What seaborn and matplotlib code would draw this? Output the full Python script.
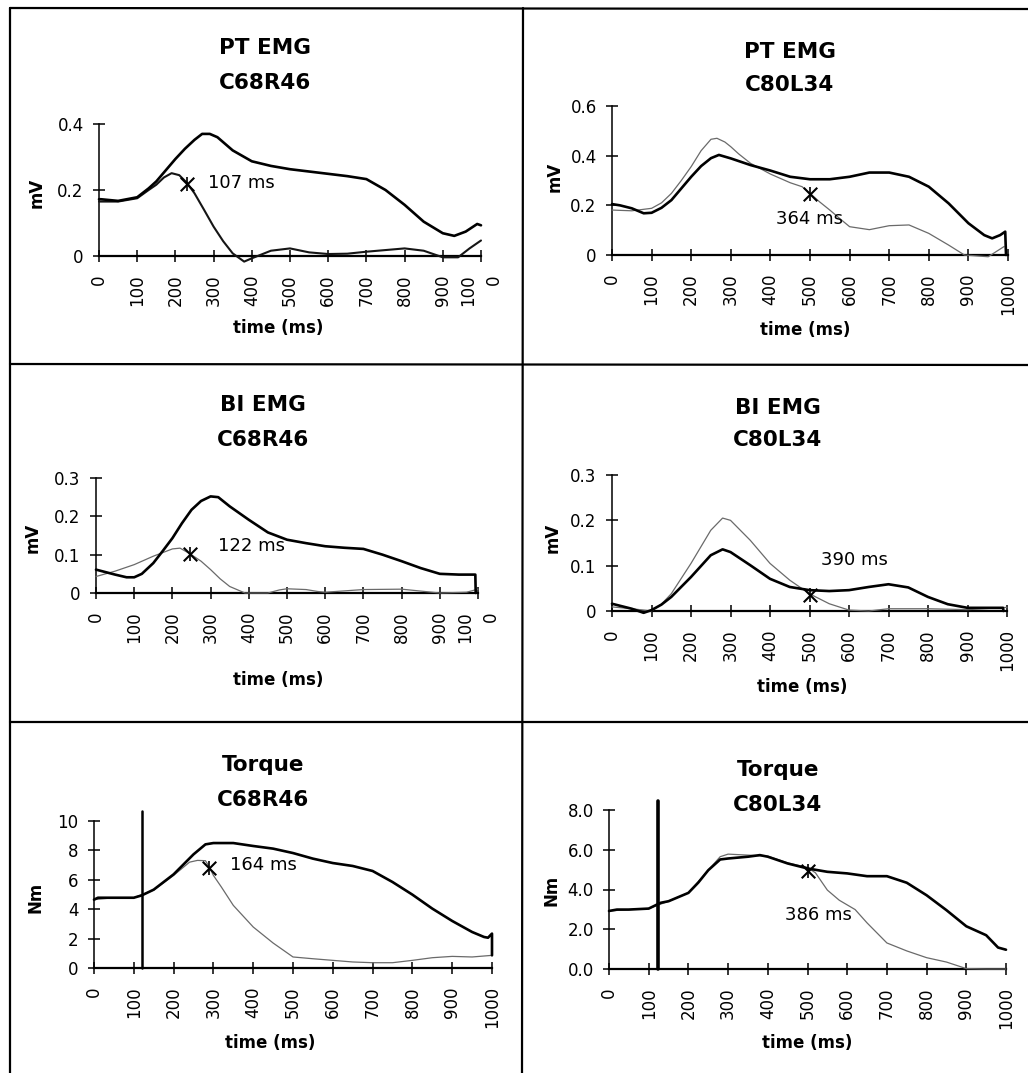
import matplotlib
matplotlib.use("Agg")
import matplotlib.pyplot as plt
import seaborn as sns
import pandas as pd
from matplotlib.lines import Line2D

sns.set_theme(style="white")
plt.rcParams['font.family'] = ['DejaVu Sans']
plt.rcParams['text.color'] = 'black'
plt.rcParams['axes.labelcolor'] = 'black'
plt.rcParams['xtick.color'] = 'black'
plt.rcParams['ytick.color'] = 'black'

# ---------------- data ----------------
titles_top = ["PT EMG", "PT EMG", "BI EMG", "BI EMG", "Torque", "Torque"]
titles_sub = ["C68R46", "C80L34", "C68R46", "C80L34", "C68R46", "C80L34"]
y_units = ["mV", "mV", "mV", "mV", "Nm", "Nm"]

x_ticks = [0, 100, 200, 300, 400, 500, 600, 700, 800, 900, 1000]
x_labels_split = ["0", "100", "200", "300", "400", "500", "600", "700", "800", "900", "100\n0"]
x_labels_full = ["0", "100", "200", "300", "400", "500", "600", "700", "800", "900", "1000"]

y_ticks_pt_r = [0, 0.2, 0.4]
y_labels_pt_r = ["0", "0.2", "0.4"]
y_ticks_pt_l = [0, 0.2, 0.4, 0.6]
y_labels_pt_l = ["0", "0.2", "0.4", "0.6"]
y_ticks_bi = [0, 0.1, 0.2, 0.3]
y_labels_bi = ["0", "0.1", "0.2", "0.3"]
y_ticks_tq_r = [0, 2, 4, 6, 8, 10]
y_labels_tq_r = ["0", "2", "4", "6", "8", "10"]
y_ticks_tq_l = [0, 2, 4, 6, 8]
y_labels_tq_l = ["0.0", "2.0", "4.0", "6.0", "8.0"]

# PT EMG C68R46
pt_r_thick_t = [0, 5, 50, 100, 130, 150, 175, 200, 225, 250, 270, 290, 310, 350, 400, 450, 500, 550, 600, 650, 700, 750, 800, 850, 900, 930, 960, 990, 1000]
pt_r_thick_v = [0.172, 0.172, 0.167, 0.178, 0.205, 0.226, 0.26, 0.294, 0.325, 0.352, 0.370, 0.370, 0.36, 0.32, 0.287, 0.273, 0.263, 0.256, 0.249, 0.242, 0.233, 0.2, 0.155, 0.104, 0.069, 0.061, 0.074, 0.097, 0.093]
pt_r_thin_t = [0, 50, 100, 130, 150, 170, 190, 210, 230, 250, 275, 300, 325, 350, 380, 400, 450, 500, 550, 600, 650, 700, 750, 800, 850, 900, 940, 970, 1000]
pt_r_thin_v = [0.165, 0.165, 0.175, 0.2, 0.216, 0.238, 0.251, 0.245, 0.222, 0.19, 0.14, 0.089, 0.045, 0.008, -0.017, -0.007, 0.016, 0.023, 0.011, 0.006, 0.007, 0.013, 0.018, 0.023, 0.016, -0.004, -0.004, 0.023, 0.047]

# PT EMG C80L34
pt_l_thick_t = [0, 20, 50, 80, 100, 125, 150, 175, 200, 225, 250, 270, 300, 350, 400, 450, 500, 550, 600, 650, 700, 750, 800, 850, 900, 940, 960, 980, 993, 995]
pt_l_thick_v = [0.205, 0.2, 0.188, 0.168, 0.17, 0.19, 0.221, 0.268, 0.315, 0.358, 0.39, 0.403, 0.389, 0.362, 0.34, 0.315, 0.305, 0.305, 0.315, 0.332, 0.332, 0.315, 0.275, 0.208, 0.128, 0.08, 0.067, 0.08, 0.094, 0.0]
pt_l_thin_t = [0, 50, 100, 125, 150, 175, 200, 225, 250, 265, 285, 300, 320, 350, 400, 450, 480, 500, 525, 550, 575, 600, 650, 700, 750, 800, 850, 890, 950, 990]
pt_l_thin_v = [0.181, 0.178, 0.188, 0.21, 0.248, 0.3, 0.356, 0.42, 0.466, 0.47, 0.455, 0.436, 0.407, 0.369, 0.326, 0.291, 0.275, 0.248, 0.213, 0.181, 0.147, 0.114, 0.102, 0.118, 0.121, 0.087, 0.04, 0.0, -0.007, 0.034]

# BI EMG C68R46
bi_r_thick_t = [0, 50, 80, 100, 120, 150, 175, 200, 225, 250, 275, 300, 320, 350, 400, 450, 500, 550, 600, 650, 700, 750, 800, 850, 900, 950, 993, 994]
bi_r_thick_v = [0.061, 0.048, 0.041, 0.041, 0.05, 0.078, 0.11, 0.143, 0.182, 0.217, 0.24, 0.252, 0.25, 0.226, 0.191, 0.158, 0.139, 0.13, 0.122, 0.118, 0.115, 0.1, 0.083, 0.065, 0.05, 0.048, 0.048, 0.0]
bi_r_thin_t = [0, 50, 100, 150, 200, 220, 245, 275, 300, 325, 350, 390, 450, 480, 500, 550, 580, 600, 700, 800, 900, 970, 1000]
bi_r_thin_v = [0.043, 0.057, 0.074, 0.096, 0.115, 0.117, 0.103, 0.083, 0.061, 0.037, 0.017, 0.0, 0.0, 0.008, 0.011, 0.009, 0.004, 0.002, 0.009, 0.01, 0.0, 0.002, 0.01]

# BI EMG C80L34
bi_l_thick_t = [0, 50, 80, 100, 125, 150, 200, 250, 280, 300, 350, 400, 450, 500, 550, 600, 650, 700, 750, 800, 850, 900, 950, 990, 991]
bi_l_thick_v = [0.016, 0.005, -0.004, 0.002, 0.014, 0.031, 0.075, 0.123, 0.136, 0.13, 0.101, 0.071, 0.053, 0.046, 0.044, 0.046, 0.053, 0.059, 0.052, 0.031, 0.015, 0.007, 0.007, 0.007, 0.0]
bi_l_thin_t = [0, 50, 100, 125, 150, 200, 250, 280, 300, 350, 400, 450, 500, 550, 600, 650, 700, 800, 900, 1000]
bi_l_thin_v = [0.009, 0.005, 0.0, 0.015, 0.038, 0.105, 0.178, 0.205, 0.2, 0.156, 0.105, 0.068, 0.038, 0.016, 0.002, 0.0, 0.005, 0.005, 0.003, 0.008]

# Torque C68R46
tq_r_thick_t = [0, 10, 50, 100, 120, 150, 200, 250, 280, 300, 350, 400, 450, 500, 550, 600, 650, 700, 750, 800, 850, 900, 950, 980, 990, 1000, 1000]
tq_r_thick_v = [4.65, 4.78, 4.78, 4.78, 4.94, 5.33, 6.37, 7.73, 8.41, 8.5, 8.5, 8.3, 8.12, 7.82, 7.44, 7.14, 6.94, 6.6, 5.85, 4.99, 4.04, 3.2, 2.45, 2.11, 2.06, 2.34, 0.86]
tq_r_thin_t = [0, 50, 100, 150, 200, 240, 260, 280, 290, 300, 320, 350, 400, 450, 500, 550, 600, 650, 700, 750, 800, 850, 900, 950, 1000]
tq_r_thin_v = [4.65, 4.78, 4.78, 5.3, 6.3, 7.2, 7.32, 7.3, 6.87, 6.3, 5.51, 4.26, 2.79, 1.7, 0.75, 0.63, 0.52, 0.41, 0.36, 0.36, 0.52, 0.7, 0.79, 0.75, 0.86]

# Torque C80L34
tq_l_thick_t = [0, 20, 50, 100, 130, 150, 200, 225, 250, 280, 300, 350, 380, 400, 450, 500, 550, 600, 650, 700, 750, 800, 850, 900, 950, 980, 1000]
tq_l_thick_v = [2.92, 2.99, 2.99, 3.04, 3.33, 3.41, 3.83, 4.35, 4.97, 5.51, 5.56, 5.65, 5.73, 5.65, 5.31, 5.06, 4.89, 4.81, 4.67, 4.67, 4.34, 3.71, 2.96, 2.15, 1.70, 1.08, 0.97]
tq_l_thin_t = [0, 50, 100, 150, 200, 250, 280, 300, 350, 400, 450, 500, 520, 550, 580, 620, 650, 700, 750, 800, 850, 900, 950, 1000]
tq_l_thin_v = [2.92, 2.99, 3.04, 3.41, 3.83, 4.97, 5.65, 5.78, 5.73, 5.68, 5.34, 5.11, 4.84, 3.97, 3.46, 2.99, 2.32, 1.31, 0.91, 0.57, 0.35, 0.02, 0.0, 0.0]

# onset markers and labels
onset_t = [231, 500, 246, 500, 290, 500]
onset_v = [0.219, 0.244, 0.103, 0.035, 6.8, 4.94]
onset_text = ["107 ms", "364 ms", "122 ms", "390 ms", "164 ms", "386 ms"]
onset_text_t = [286, 500, 320, 615, 342, 528]
onset_text_v = [0.22, 0.145, 0.122, 0.112, 6.98, 2.7]
onset_text_ha = ["left", "center", "left", "center", "left", "center"]

# stimulus lines (torque panels)
stim_t = [120, 123]
stim_top = [10.7, 8.45]

# ---------------- layout (pixels) ----------------
W, H = 1028, 1073
fig = plt.figure(figsize=(W / 100, H / 100), dpi=100)

axes_px = [(99, 481, 124, 256), (612, 1008, 106, 255),
           (96, 478, 478, 593), (612, 1007, 475, 611),
           (94, 492, 821, 968), (609, 1006, 810, 969)]
title_px = [(265, 48, 83), (790, 52, 85), (263, 405, 440), (778, 408, 440), (263, 765, 800), (778, 770, 805)]
xlabel_px = [(278, 328), (805, 330), (278, 680), (802, 687), (270, 1043), (807, 1043)]
ylabel_px = [(37, 193), (555, 177), (33, 538), (553, 538), (35, 897), (552, 890)]

series = [
    (pt_r_thin_t, pt_r_thin_v, pt_r_thick_t, pt_r_thick_v, y_ticks_pt_r, y_labels_pt_r, x_labels_split),
    (pt_l_thin_t, pt_l_thin_v, pt_l_thick_t, pt_l_thick_v, y_ticks_pt_l, y_labels_pt_l, x_labels_full),
    (bi_r_thin_t, bi_r_thin_v, bi_r_thick_t, bi_r_thick_v, y_ticks_bi, y_labels_bi, x_labels_split),
    (bi_l_thin_t, bi_l_thin_v, bi_l_thick_t, bi_l_thick_v, y_ticks_bi, y_labels_bi, x_labels_full),
    (tq_r_thin_t, tq_r_thin_v, tq_r_thick_t, tq_r_thick_v, y_ticks_tq_r, y_labels_tq_r, x_labels_full),
    (tq_l_thin_t, tq_l_thin_v, tq_l_thick_t, tq_l_thick_v, y_ticks_tq_l, y_labels_tq_l, x_labels_full),
]

for i, (tt, tv, kt, kv, yt, yl, xl) in enumerate(series):
    l, r, t, b = axes_px[i]
    ax = fig.add_axes([l / W, 1 - b / H, (r - l) / W, (b - t) / H])
    thin_col = "#151515" if i == 0 else "#6a6a6a"
    thin_lw = 1.5 if i == 0 else 0.9
    df_thin = pd.DataFrame({"time": tt, "value": tv})
    df_thick = pd.DataFrame({"time": kt, "value": kv})
    sns.lineplot(data=df_thin, x="time", y="value", ax=ax, color=thin_col, lw=thin_lw,
                 estimator=None, sort=False, clip_on=False, zorder=3)
    sns.lineplot(data=df_thick, x="time", y="value", ax=ax, color="black", lw=1.9,
                 estimator=None, sort=False, clip_on=False, zorder=4)
    if i >= 4:
        j = i - 4
        sns.lineplot(x=[stim_t[j], stim_t[j]], y=[0, stim_top[j]], ax=ax, color="black",
                     lw=1.8 if j == 0 else 2.6, estimator=None, sort=False, clip_on=False, zorder=5)
    ax.scatter([onset_t[i]], [onset_v[i]], marker="x", s=95, c="black", linewidths=1.5, zorder=6, clip_on=False)
    ax.scatter([onset_t[i]], [onset_v[i]], marker="|", s=95, c="black", linewidths=1.2, zorder=6, clip_on=False)
    ax.text(onset_text_t[i], onset_text_v[i], onset_text[i], ha=onset_text_ha[i], va="center",
            fontsize=13, color="black", zorder=7)

    ax.set_xlim(0, 1000)
    ax.set_ylim(0, yt[-1])
    for s in ["top", "right"]:
        ax.spines[s].set_visible(False)
    for s in ["left", "bottom"]:
        ax.spines[s].set_color("black")
        ax.spines[s].set_linewidth(1.1)
    ax.spines["bottom"].set_linewidth(1.6)
    ax.set_xticks(x_ticks)
    ax.set_xticklabels(xl, rotation=90, fontsize=12)
    ax.set_yticks(yt)
    ax.set_yticklabels(yl, fontsize=12)
    ax.tick_params(axis="both", which="major", direction="inout", length=8, width=1.1,
                   colors="black", bottom=True, left=True, top=False, right=False)
    ax.tick_params(axis="x", pad=9)
    ax.tick_params(axis="y", pad=7)
    last = ax.get_xticklabels()[-1]
    if "\n" in xl[-1]:
        last.set_multialignment("right")
        last.set_linespacing(1.5)

    ax.set_xlabel("time (ms)", fontsize=12, fontweight="bold")
    ax.xaxis.set_label_coords(xlabel_px[i][0] / W, 1 - xlabel_px[i][1] / H, transform=fig.transFigure)
    ax.xaxis.label.set_va("center")
    ax.set_ylabel(y_units[i], fontsize=12, fontweight="bold")
    ax.yaxis.set_label_coords(ylabel_px[i][0] / W, 1 - ylabel_px[i][1] / H, transform=fig.transFigure)
    ax.yaxis.label.set_va("center")
    ax.patch.set_alpha(0)

    cx, y1, y2 = title_px[i]
    fig.text(cx / W, 1 - y1 / H, titles_top[i], ha="center", va="center", fontsize=15.5, fontweight="bold")
    fig.text(cx / W, 1 - y2 / H, titles_sub[i], ha="center", va="center", fontsize=15.5, fontweight="bold")

# frame lines separating the panels
def fline(x0, y0, x1, y1, lw=1.6):
    fig.add_artist(Line2D([x0 / W, x1 / W], [1 - y0 / H, 1 - y1 / H], transform=fig.transFigure,
                          color="black", lw=lw))

fline(10, 8, 10, 1073)
fline(10, 8, 1028, 9)
fline(523, 8, 522, 1073)
fline(10, 364, 1028, 365)
fline(10, 722, 1028, 722)

fig.savefig("out.png", dpi=100, facecolor="white")
